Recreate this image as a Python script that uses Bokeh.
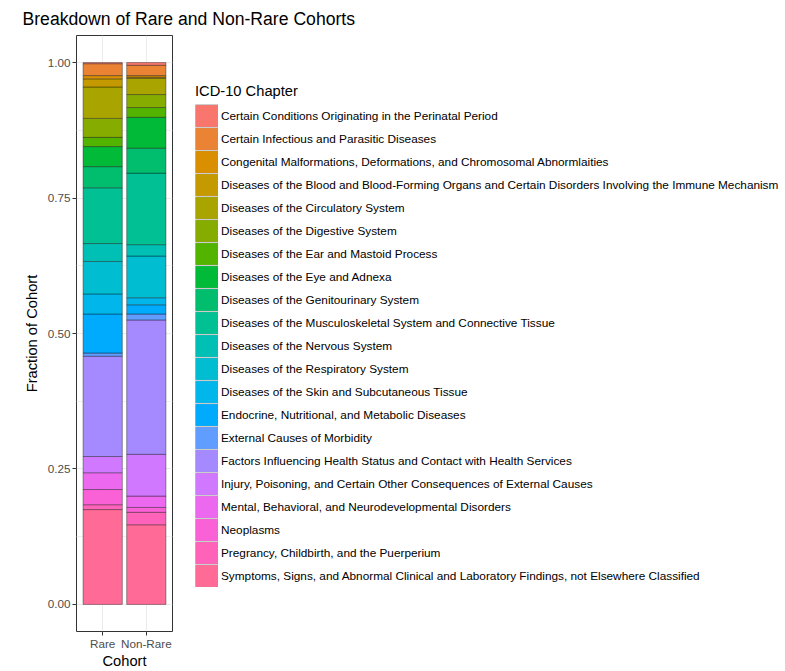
import math
from bokeh.plotting import figure
from bokeh.layouts import column, row
from bokeh.models import (ColumnDataSource, FactorRange, Range1d, FixedTicker,
                          NumeralTickFormatter, Legend, LegendItem, Label)
from bokeh.core.properties import value
from bokeh.embed import file_html
from bokeh.resources import INLINE

cohorts = ["Rare", "Non-Rare"]

chapters = [
    "Certain Conditions Originating in the Perinatal Period",
    "Certain Infectious and Parasitic Diseases",
    "Congenital Malformations, Deformations, and Chromosomal Abnormlaities",
    "Diseases of the Blood and Blood-Forming Organs and Certain Disorders Involving the Immune Mechanism",
    "Diseases of the Circulatory System",
    "Diseases of the Digestive System",
    "Diseases of the Ear and Mastoid Process",
    "Diseases of the Eye and Adnexa",
    "Diseases of the Genitourinary System",
    "Diseases of the Musculoskeletal System and Connective Tissue",
    "Diseases of the Nervous System",
    "Diseases of the Respiratory System",
    "Diseases of the Skin and Subcutaneous Tissue",
    "Endocrine, Nutritional, and Metabolic Diseases",
    "External Causes of Morbidity",
    "Factors Influencing Health Status and Contact with Health Services",
    "Injury, Poisoning, and Certain Other Consequences of External Causes",
    "Mental, Behavioral, and Neurodevelopmental Disorders",
    "Neoplasms",
    "Pregrancy, Childbirth, and the Puerperium",
    "Symptoms, Signs, and Abnormal Clinical and Laboratory Findings, not Elsewhere Classified",
]

rare_frac = [0.002, 0.022, 0.006, 0.015, 0.058, 0.035, 0.017, 0.037, 0.039, 0.103,
             0.033, 0.060, 0.037, 0.072, 0.006, 0.185, 0.030, 0.031, 0.028, 0.009,
             0.175]
nonrare_frac = [0.005, 0.019, 0.003, 0.002, 0.030, 0.024, 0.018, 0.057, 0.046, 0.132,
                0.021, 0.077, 0.013, 0.017, 0.011, 0.248, 0.077, 0.021, 0.009, 0.023,
                0.147]

y_ticks = [0.0, 0.25, 0.5, 0.75, 1.0]
y_minor_ticks = [0.125, 0.375, 0.625, 0.875]

TITLE = "Breakdown of Rare and Non-Rare Cohorts"
LEGEND_TITLE = "ICD-10 Chapter"


def hcl_to_hex(h, c=100.0, l=65.0):
    hr = math.radians(h)
    U = c * math.cos(hr)
    V = c * math.sin(hr)
    xn, yn, zn = 95.047, 100.0, 108.883
    den = xn + 15 * yn + 3 * zn
    un, vn = 4 * xn / den, 9 * yn / den
    Y = yn * (((l + 16) / 116) ** 3 if l > 8 else l / 903.3)
    u = U / (13 * l) + un
    v = V / (13 * l) + vn
    X = 9 * Y * u / (4 * v)
    Z = 3 * Y / v - X / 3 - 5 * Y
    X, Y, Z = X / 100, Y / 100, Z / 100
    r = 3.240479 * X - 1.537150 * Y - 0.498535 * Z
    g = -0.969256 * X + 1.875992 * Y + 0.041556 * Z
    b = 0.055648 * X - 0.204043 * Y + 1.057311 * Z

    def gam(t):
        t = 12.92 * t if t <= 0.0031308 else 1.055 * t ** (1 / 2.4) - 0.055
        return int(round(min(1.0, max(0.0, t)) * 255))

    return "#%02X%02X%02X" % (gam(r), gam(g), gam(b))


def hue_palette(n):
    return [hcl_to_hex(15 + 360.0 * i / n) for i in range(n)]


colors = hue_palette(len(chapters))

data = {"cohort": cohorts}
for ch, r, nr in zip(chapters, rare_frac, nonrare_frac):
    data[ch] = [r, nr]
source = ColumnDataSource(data)

FONT = "Liberation Sans"
BOTTOM = 36

# ---------------- title strip ----------------
TW, TH = 785, 34
pt = figure(width=TW, height=TH, x_range=Range1d(0, TW), y_range=Range1d(0, TH),
            output_backend="svg", toolbar_location=None,
            x_axis_location=None, y_axis_location=None, min_border=0)
pt.outline_line_color = None
pt.grid.visible = False
pt.add_layout(Label(x=22, y=TH - 18, text=TITLE, text_font=FONT,
                    text_font_size="17.6px", text_color="black",
                    text_baseline="middle", text_align="left"))

# ---------------- bar chart ----------------
p = figure(
    x_range=FactorRange(*cohorts, range_padding=0.1),
    y_range=Range1d(-0.05, 1.05),
    width=180, height=671 - TH,
    output_backend="svg", toolbar_location=None,
    min_border_left=76, min_border_right=8,
    min_border_top=1, min_border_bottom=BOTTOM,
)
p.background_fill_color = "white"
p.border_fill_color = "white"
p.outline_line_color = "#333333"
p.outline_line_width = 1

stack_order = list(reversed(chapters))
stack_colors = list(reversed(colors))
p.vbar_stack(
    stack_order, x="cohort", width=0.9, source=source,
    fill_color=stack_colors, line_color="black", line_alpha=0.45, line_width=0.8,
)

ticker = FixedTicker(ticks=y_ticks, minor_ticks=y_minor_ticks)
p.yaxis.ticker = ticker
p.ygrid.ticker = ticker
p.yaxis.formatter = NumeralTickFormatter(format="0.00")
p.yaxis.axis_label = "Fraction of Cohort"
p.xaxis.axis_label = "Cohort"
for ax in p.axis:
    ax.axis_line_color = None
    ax.major_tick_line_color = "#333333"
    ax.major_tick_in = 0
    ax.major_tick_out = 4
    ax.minor_tick_line_color = None
    ax.major_label_text_font = FONT
    ax.major_label_text_font_size = "11.7px"
    ax.major_label_text_color = "#4D4D4D"
    ax.axis_label_text_font = FONT
    ax.axis_label_text_font_size = "14.7px"
    ax.axis_label_text_font_style = "normal"
    ax.axis_label_text_color = "black"
p.yaxis.major_label_standoff = 2
p.yaxis.axis_label_standoff = 5
p.xaxis.major_label_standoff = 1
p.xaxis.axis_label_standoff = 0

p.xgrid.grid_line_color = "#EBEBEB"
p.ygrid.grid_line_color = "#EBEBEB"
p.ygrid.minor_grid_line_color = "#F0F0F0"

# ---------------- legend panel ----------------
LW, LH = 785 - 180, 671 - TH
pl = figure(width=LW, height=LH, x_range=Range1d(0, 1), y_range=Range1d(0, 1),
            output_backend="svg", toolbar_location=None,
            x_axis_location=None, y_axis_location=None, min_border=0)
pl.outline_line_color = None
pl.grid.visible = False

key_items = []
for ch, col in zip(chapters, colors):
    # swatch renderers: a single off-range point, so only the legend key shows
    edge = pl.line(x=[-1], y=[-1], line_width=23, line_color="black", line_alpha=0.4)
    fill = pl.line(x=[-1], y=[-1], line_width=21.8, line_color=col)
    key_items.append(LegendItem(label=value(ch), renderers=[edge, fill]))

legend = Legend(items=key_items, location=(15, 44), title=LEGEND_TITLE)
legend.glyph_width = 23
legend.glyph_height = 23
legend.label_height = 23
legend.spacing = 0
legend.label_standoff = 3
legend.padding = 0
legend.margin = 0
legend.border_line_color = None
legend.background_fill_alpha = 0
legend.label_text_font = FONT
legend.label_text_font_size = "11.8px"
legend.label_text_color = "black"
legend.title_text_font = FONT
legend.title_text_font_size = "14.7px"
legend.title_text_font_style = "normal"
legend.title_text_color = "black"
legend.title_standoff = 5
pl.add_layout(legend)

layout = column(pt, row(p, pl, spacing=0), spacing=0)

open("out.html", "w").write(file_html(layout, INLINE))
